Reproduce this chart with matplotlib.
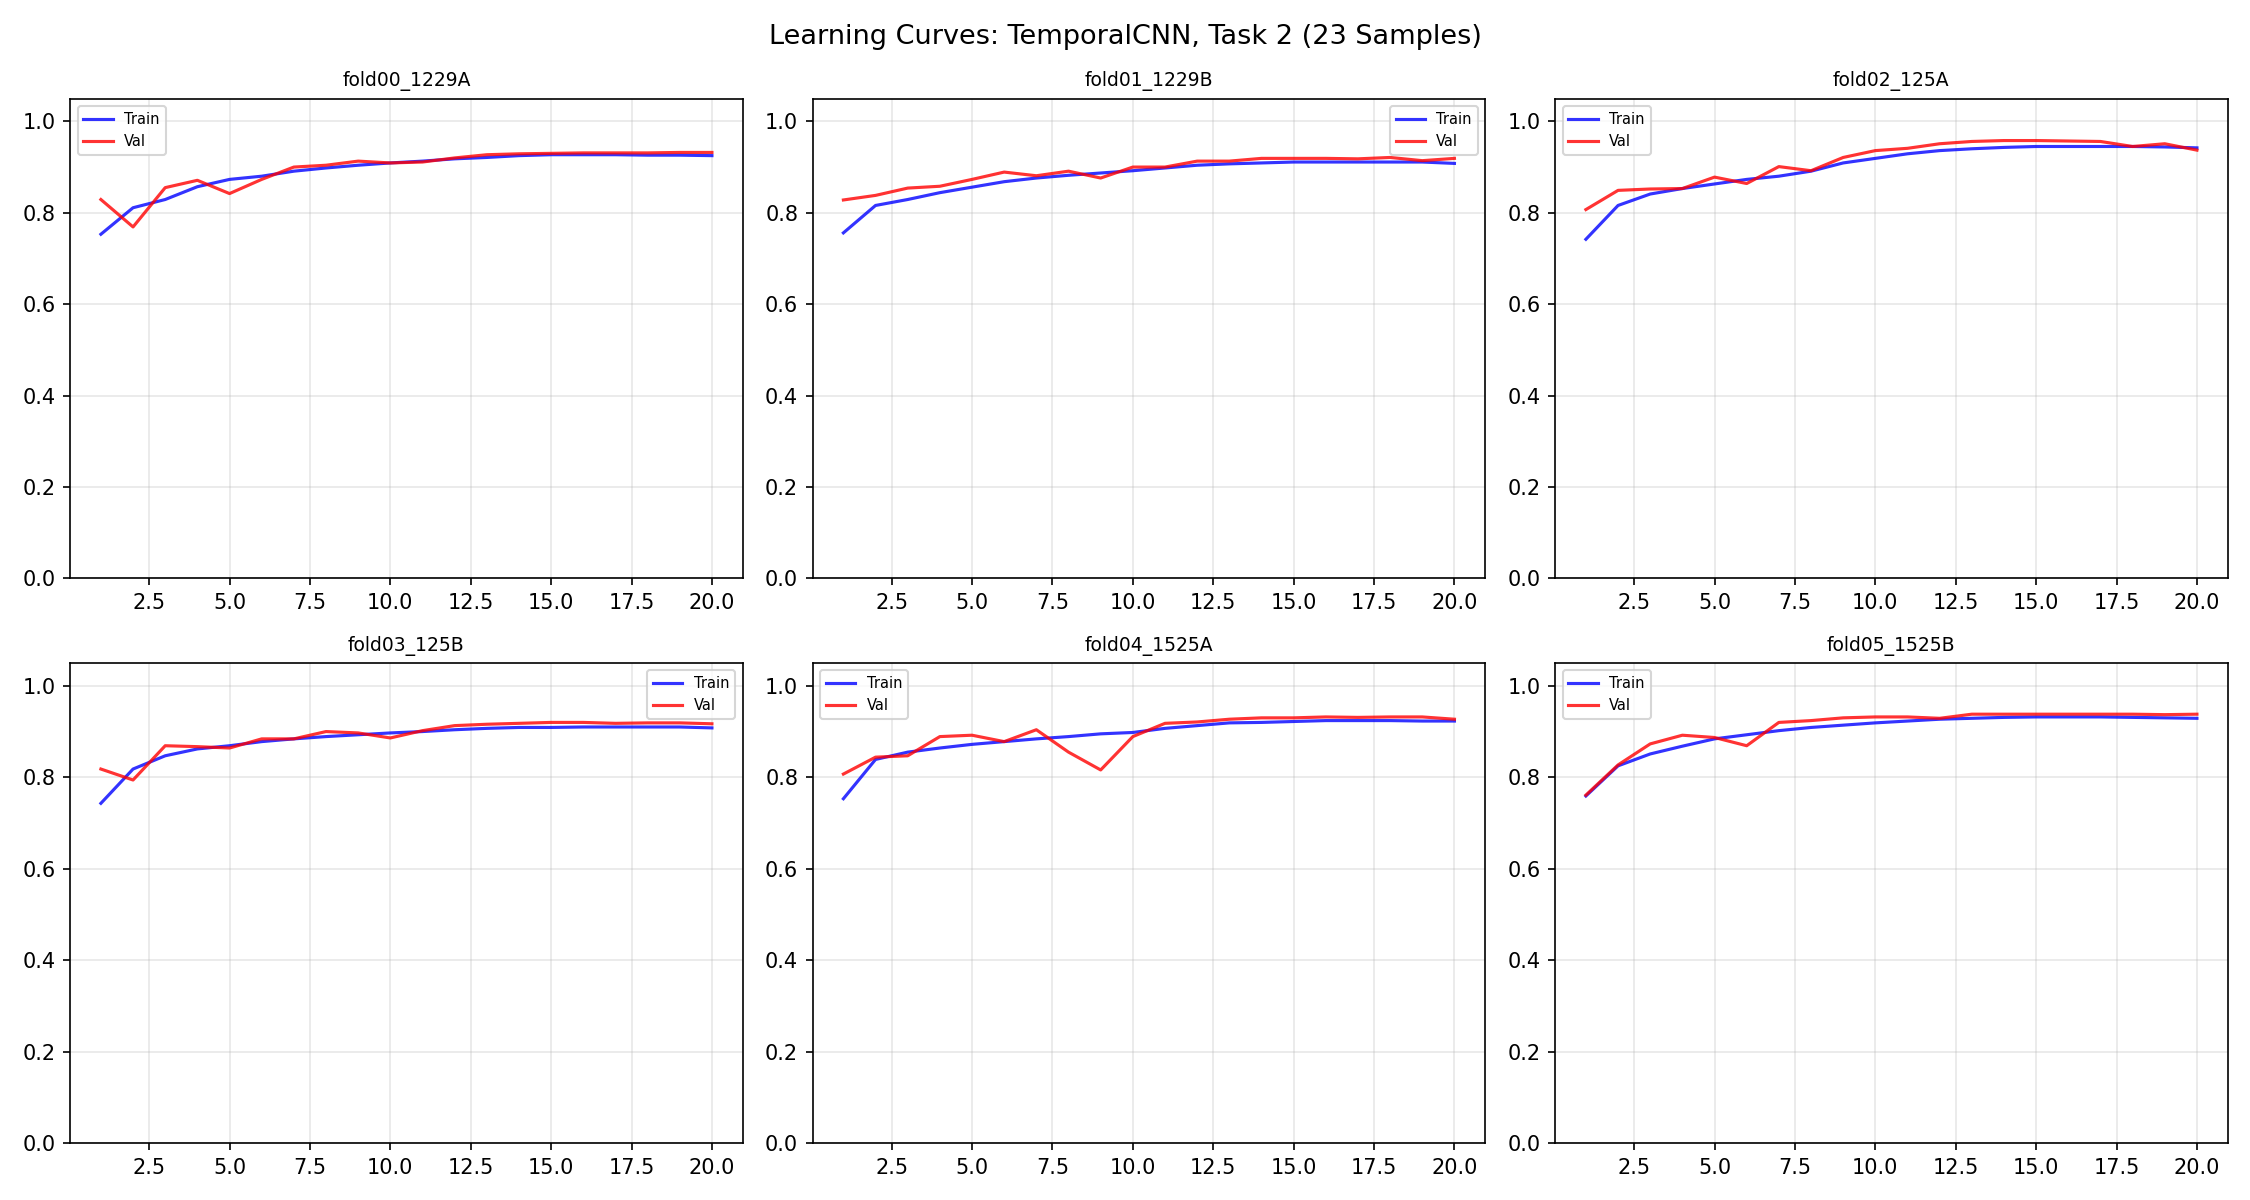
#!/usr/bin/env python
import matplotlib
matplotlib.use("Agg")
import matplotlib.pyplot as plt

epochs = list(range(1, 21))

fold_names = ["fold00_1229A", "fold01_1229B", "fold02_125A",
              "fold03_125B", "fold04_1525A", "fold05_1525B"]

# train / val accuracy per fold
train_f0 = [0.753, 0.811, 0.829, 0.857, 0.873, 0.880, 0.891, 0.898, 0.904, 0.909,
            0.913, 0.918, 0.921, 0.925, 0.927, 0.927, 0.927, 0.926, 0.926, 0.925]
val_f0 = [0.829, 0.769, 0.855, 0.871, 0.842, 0.873, 0.900, 0.904, 0.913, 0.909,
          0.911, 0.920, 0.927, 0.929, 0.930, 0.931, 0.931, 0.931, 0.932, 0.932]

train_f1 = [0.756, 0.816, 0.829, 0.844, 0.856, 0.868, 0.876, 0.882, 0.887, 0.892,
            0.898, 0.904, 0.907, 0.909, 0.911, 0.911, 0.911, 0.911, 0.911, 0.908]
val_f1 = [0.828, 0.838, 0.854, 0.858, 0.873, 0.889, 0.881, 0.891, 0.876, 0.900,
          0.900, 0.913, 0.913, 0.919, 0.919, 0.919, 0.918, 0.921, 0.914, 0.919]

train_f2 = [0.742, 0.816, 0.841, 0.853, 0.863, 0.873, 0.880, 0.891, 0.909, 0.919,
            0.929, 0.936, 0.940, 0.943, 0.945, 0.945, 0.945, 0.945, 0.944, 0.942]
val_f2 = [0.807, 0.849, 0.852, 0.853, 0.878, 0.864, 0.901, 0.892, 0.921, 0.936,
          0.941, 0.951, 0.956, 0.958, 0.958, 0.957, 0.956, 0.945, 0.951, 0.937]

train_f3 = [0.743, 0.818, 0.847, 0.862, 0.869, 0.878, 0.884, 0.889, 0.893, 0.897,
            0.900, 0.904, 0.907, 0.909, 0.909, 0.910, 0.910, 0.910, 0.910, 0.908]
val_f3 = [0.818, 0.794, 0.869, 0.867, 0.864, 0.884, 0.884, 0.900, 0.897, 0.886,
          0.902, 0.913, 0.916, 0.918, 0.920, 0.920, 0.918, 0.919, 0.919, 0.917]

train_f4 = [0.753, 0.839, 0.855, 0.864, 0.872, 0.878, 0.884, 0.889, 0.895, 0.898,
            0.907, 0.913, 0.919, 0.920, 0.922, 0.924, 0.924, 0.924, 0.923, 0.923]
val_f4 = [0.807, 0.844, 0.847, 0.889, 0.892, 0.878, 0.904, 0.855, 0.816, 0.889,
          0.918, 0.921, 0.927, 0.930, 0.930, 0.932, 0.931, 0.932, 0.932, 0.927]

train_f5 = [0.759, 0.825, 0.851, 0.868, 0.884, 0.893, 0.902, 0.909, 0.914, 0.919,
            0.923, 0.927, 0.929, 0.931, 0.932, 0.932, 0.932, 0.931, 0.930, 0.929]
val_f5 = [0.761, 0.827, 0.873, 0.892, 0.887, 0.869, 0.920, 0.924, 0.930, 0.932,
          0.932, 0.929, 0.938, 0.938, 0.938, 0.938, 0.938, 0.938, 0.937, 0.938]

train_all = [train_f0, train_f1, train_f2, train_f3, train_f4, train_f5]
val_all = [val_f0, val_f1, val_f2, val_f3, val_f4, val_f5]
legend_locs = ["upper left", "upper right", "upper left",
               "upper right", "upper left", "upper left"]

fig, axes = plt.subplots(2, 3, figsize=(15, 8), dpi=150)
fig.suptitle("Learning Curves: TemporalCNN, Task 2 (23 Samples)", fontsize=13)

for ax, name, tr, va, loc in zip(axes.flat, fold_names, train_all, val_all, legend_locs):
    ax.plot(epochs, tr, color="b", alpha=0.8, label="Train")
    ax.plot(epochs, va, color="r", alpha=0.8, label="Val")
    ax.set_title(name, fontsize=9)
    ax.set_ylim(0, 1.05)
    ax.grid(True, alpha=0.3)
    ax.legend(fontsize=7, loc=loc)

plt.tight_layout()
plt.savefig("out.png")
